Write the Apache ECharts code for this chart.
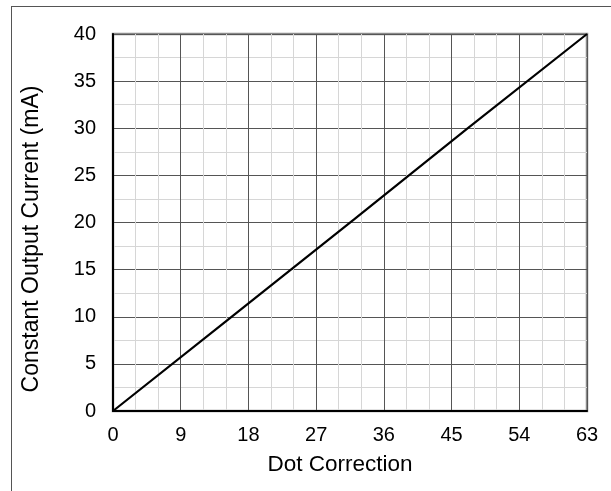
<!DOCTYPE html>
<html>
<head>
<meta charset="utf-8">
<script src="https://cdn.jsdelivr.net/npm/echarts@6/dist/echarts.min.js"></script>
<style>
html,body{margin:0;padding:0;background:#fff;}
#chart{width:611px;height:491px;}
</style>
</head>
<body>
<div id="chart"></div>
<script>
// Data
var dotCorrection = [0, 15, 32, 47, 63];
var outputCurrent = [0, 9.5, 20.3, 29.9, 40];
var xTicks = [0, 9, 18, 27, 36, 45, 54, 63];
var yTicks = [0, 5, 10, 15, 20, 25, 30, 35, 40];
var xTitle = 'Dot Correction';
var yTitle = 'Constant Output Current (mA)';

var FONT = '"Liberation Sans", Arial, sans-serif';
var chart = echarts.init(document.getElementById('chart'), null, {renderer: 'canvas'});

var points = dotCorrection.map(function (x, i) { return [x, outputCurrent[i]]; });

chart.setOption({
  animation: false,
  backgroundColor: '#fff',
  grid: {
    left: 113, top: 34, right: 24, bottom: 80,
    show: true, borderColor: '#8a8a8a', borderWidth: 2.5, backgroundColor: 'transparent'
  },
  xAxis: {
    type: 'value',
    min: xTicks[0], max: xTicks[xTicks.length - 1], interval: 9,
    minorTick: {show: false, splitNumber: 3},
    minorSplitLine: {show: true, lineStyle: {color: '#d6d6d6', width: 1}},
    splitLine: {show: true, lineStyle: {color: '#555', width: 1}},
    axisLine: {show: true, onZero: false, lineStyle: {color: '#000', width: 2}},
    axisTick: {show: false},
    axisLabel: {color: '#000', fontFamily: FONT, fontSize: 20, margin: 14, showMaxLabel: true, showMinLabel: true}
  },
  yAxis: {
    type: 'value',
    min: yTicks[0], max: yTicks[yTicks.length - 1], interval: 5,
    minorTick: {show: false, splitNumber: 2},
    minorSplitLine: {show: true, lineStyle: {color: '#d6d6d6', width: 1}},
    splitLine: {show: true, lineStyle: {color: '#555', width: 1}},
    axisLine: {show: true, onZero: false, lineStyle: {color: '#000', width: 2}},
    axisTick: {show: false},
    axisLabel: {color: '#000', fontFamily: FONT, fontSize: 20, margin: 17}
  },
  series: [{
    type: 'line',
    data: points,
    showSymbol: false,
    symbol: 'none',
    lineStyle: {color: '#000', width: 2.2},
    z: 5
  }],
  graphic: [
    {type: 'line', shape: {x1: 11.5, y1: 6, x2: 11.5, y2: 491}, style: {stroke: '#555', lineWidth: 1}},
    {type: 'line', shape: {x1: 11, y1: 6.5, x2: 611, y2: 6.5}, style: {stroke: '#555', lineWidth: 1}},
    {type: 'text', x: 340, y: 465, style: {text: xTitle, font: '22.5px ' + FONT, fill: '#000', textAlign: 'center', textVerticalAlign: 'middle'}},
    {type: 'text', x: 32, y: 239, rotation: Math.PI / 2, style: {text: yTitle, font: '23px ' + FONT, fill: '#000', textAlign: 'center', textVerticalAlign: 'middle'}}
  ]
});
</script>
</body>
</html>
